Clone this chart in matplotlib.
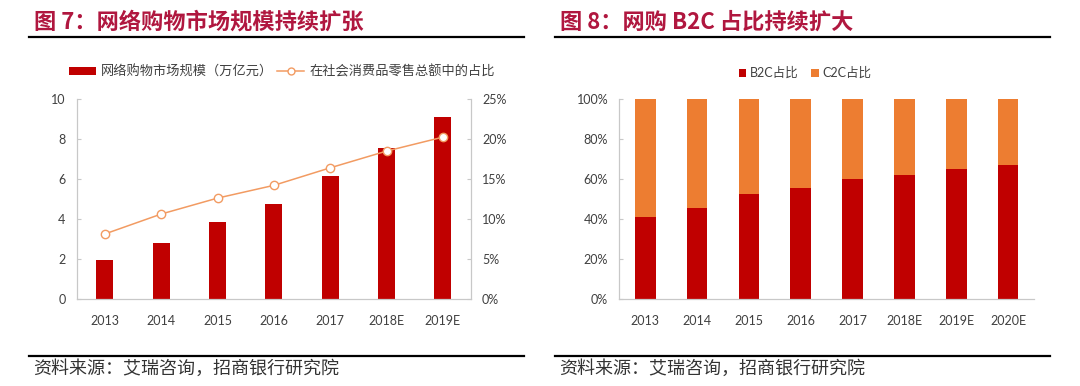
import matplotlib
matplotlib.use("Agg")
import matplotlib.pyplot as plt
from matplotlib.lines import Line2D
from matplotlib.patches import Patch
from matplotlib.ticker import PercentFormatter, MultipleLocator

plt.rcParams['font.family'] = ['Lato', 'Noto Sans CJK SC', 'DejaVu Sans']

# ---- data ----
years_left = ['2013', '2014', '2015', '2016', '2017', '2018E', '2019E']
market_size = [1.95, 2.80, 3.82, 4.73, 6.15, 7.57, 9.12]           # 万亿元
share_of_retail = [8.1, 10.6, 12.6, 14.2, 16.4, 18.5, 20.25]       # %

years_right = ['2013', '2014', '2015', '2016', '2017', '2018E', '2019E', '2020E']
b2c_share = [40.8, 45.5, 52.5, 55.7, 60.0, 62.2, 65.0, 67.2]        # %
c2c_share = [100 - v for v in b2c_share]

title_left = '图 7：网络购物市场规模持续扩张'
title_right = '图 8：网购 B2C 占比持续扩大'
source_text = '资料来源：艾瑞咨询，招商银行研究院'
leg_left = ['网络购物市场规模（万亿元）', '在社会消费品零售总额中的占比']
leg_right = ['B2C占比', 'C2C占比']

RED = '#C00000'
ORANGE = '#ED7D31'
LINE_OR = '#F29B62'
TITLE_C = '#B0173F'
SPINE_C = '#C8C8C8'
TICK_C = '#404040'
CJK = ['Noto Sans CJK SC', 'DejaVu Sans']

W, H = 1080, 386
fig = plt.figure(figsize=(W / 100, H / 100), dpi=100)


def rect(x0, y0, x1, y1):
    return [x0 / W, 1 - y1 / H, (x1 - x0) / W, (y1 - y0) / H]


def style_axis(ax):
    for s in ax.spines.values():
        s.set_color(SPINE_C)
        s.set_linewidth(0.9)
    ax.tick_params(axis='both', colors=SPINE_C, labelcolor=TICK_C, labelsize=9)
    ax.tick_params(axis='y', direction='in', length=3, pad=8)
    ax.tick_params(axis='x', length=0, pad=12)


# ---- left chart ----
axL = fig.add_axes(rect(76.7, 99.3, 471, 298.5))
xL = range(len(years_left))
axL.bar(xL, market_size, width=0.30, color=RED, zorder=2)
axL.set_xlim(-0.5, len(years_left) - 0.5)
axL.set_ylim(0, 10)
axL.yaxis.set_major_locator(MultipleLocator(2))
axL.set_xticks(list(xL))
axL.set_xticklabels(years_left)
style_axis(axL)
axL.spines['top'].set_visible(False)
axL.spines['right'].set_visible(False)

axR2 = axL.twinx()
axR2.plot(list(xL), share_of_retail, color=LINE_OR, lw=1.1, marker='o',
          markersize=6, markerfacecolor='white', markeredgecolor=LINE_OR,
          markeredgewidth=1.0, zorder=3)
axR2.set_ylim(0, 25)
axR2.yaxis.set_major_locator(MultipleLocator(5))
axR2.yaxis.set_major_formatter(PercentFormatter(decimals=0))
style_axis(axR2)
axR2.spines['top'].set_visible(False)
axR2.spines['left'].set_visible(False)
axR2.spines['bottom'].set_visible(False)

handlesL = [Patch(facecolor=RED, edgecolor='none'),
            Line2D([0], [0], color=LINE_OR, lw=1.1, marker='o', markersize=5,
                   markerfacecolor='white', markeredgecolor=LINE_OR)]
fig.legend(handlesL, leg_left, loc='center', bbox_to_anchor=(282 / W, 1 - 72 / H),
           ncol=2, frameon=False, prop={'family': CJK, 'size': 9.5},
           labelcolor='#404040', handlelength=2.0, handleheight=0.6,
           columnspacing=0.3, handletextpad=0.4)

# ---- right chart ----
axB = fig.add_axes(rect(619.3, 99.3, 1034, 298.5))
xR = range(len(years_right))
axB.bar(xR, b2c_share, width=0.40, color=RED, zorder=2)
axB.bar(xR, c2c_share, width=0.40, bottom=b2c_share, color=ORANGE, zorder=2)
axB.set_xlim(-0.5, len(years_right) - 0.5)
axB.set_ylim(0, 100)
axB.yaxis.set_major_locator(MultipleLocator(20))
axB.yaxis.set_major_formatter(PercentFormatter(decimals=0))
axB.set_xticks(list(xR))
axB.set_xticklabels(years_right)
style_axis(axB)
axB.spines['top'].set_visible(False)
axB.spines['right'].set_visible(False)

handlesR = [Patch(facecolor=RED, edgecolor='none'),
            Patch(facecolor=ORANGE, edgecolor='none')]
fig.legend(handlesR, leg_right, loc='center', bbox_to_anchor=(805 / W, 1 - 73 / H),
           ncol=2, frameon=False, prop={'family': ['Lato', 'Noto Sans CJK SC'], 'size': 9},
           labelcolor='#404040', handlelength=0.6, handleheight=0.6,
           columnspacing=1.0, handletextpad=0.3)

# ---- titles, rules, sources ----
for x_t, t in [(34.5, title_left), (560.5, title_right)]:
    fig.text(x_t / W, 1 - 22 / H, t, fontsize=16, fontweight='bold',
             color=TITLE_C, va='center', ha='left', family=CJK)

for x0, x1 in [(29, 524), (554.5, 1049.7)]:
    for y in (36.7, 355.7):
        fig.add_artist(Line2D([x0 / W, x1 / W], [1 - y / H, 1 - y / H],
                              color='black', lw=1.6))

for x_t in (33, 559):
    fig.text(x_t / W, 1 - 369 / H, source_text, fontsize=13, color='#333333',
             va='center', ha='left', family=CJK)

fig.savefig('out.png', dpi=100, facecolor='white')
